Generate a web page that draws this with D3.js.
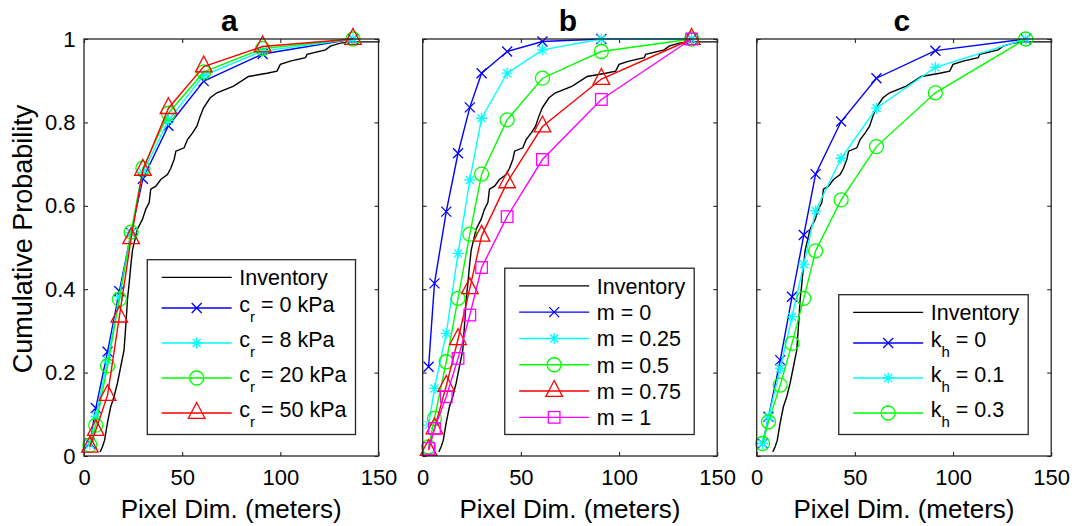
<!DOCTYPE html>
<html><head><meta charset="utf-8">
<script src="https://cdn.jsdelivr.net/npm/d3@7"></script>
<style>
body{margin:0;background:#fff}
svg{display:block}
text{font-family:"Liberation Sans",Arial,Helvetica,sans-serif;fill:#000}
</style>
</head><body>
<svg id="chart" width="1075" height="526"></svg>
<script>
// ---------- data ----------
const xVals = [3, 6, 12, 18, 24, 30, 43, 61, 91, 137];
const xTicks = [0, 50, 100, 150];
const xTickLabels = ["0", "50", "100", "150"];
const yTicks = [0, 0.2, 0.4, 0.6, 0.8, 1];
const yTickLabels = ["0", "0.2", "0.4", "0.6", "0.8", "1"];
const panelTitles = ["a", "b", "c"];
const xLabel = "Pixel Dim. (meters)";
const yLabel = "Cumulative Probability";
const inventoryLabel = "Inventory";

const invX = [8.2, 9.4, 10.5, 11.9, 13.6, 15.3, 17.0, 18.7, 20.4, 21.6, 22.1, 23.0, 23.8, 24.7, 25.5, 27.2, 29.8, 31.5, 33.2, 34.0, 36.6, 39.1, 42.5, 44.2, 45.9, 46.8, 51.0, 52.7, 55.3, 57.5, 59.2, 60.9, 64.3, 67.7, 76.2, 83.8, 93.2, 98.3, 100.0, 105.1, 112.8, 113.6, 123.0, 125.5, 130.6, 135.7, 150];
const invY = [0.01, 0.022, 0.038, 0.078, 0.118, 0.142, 0.174, 0.214, 0.254, 0.334, 0.374, 0.414, 0.454, 0.494, 0.51, 0.544, 0.568, 0.592, 0.608, 0.64, 0.647, 0.663, 0.675, 0.69, 0.711, 0.731, 0.739, 0.759, 0.775, 0.791, 0.815, 0.835, 0.859, 0.871, 0.887, 0.91, 0.918, 0.923, 0.939, 0.947, 0.955, 0.963, 0.974, 0.983, 0.99, 0.993, 0.993];

// panel a
const labelsA = ["c_r = 0 kPa", "c_r = 8 kPa", "c_r = 20 kPa", "c_r = 50 kPa"];
const cr0  = [0.03, 0.115, 0.25, 0.395, 0.535, 0.665, 0.792, 0.899, 0.964, 1.0];
const cr8  = [0.028, 0.095, 0.23, 0.382, 0.536, 0.68, 0.805, 0.913, 0.971, 1.0];
const cr20 = [0.026, 0.074, 0.216, 0.376, 0.537, 0.69, 0.822, 0.921, 0.977, 1.0];
const cr50 = [0.022, 0.062, 0.146, 0.334, 0.522, 0.686, 0.834, 0.934, 0.982, 1.0];
// panel b
const labelsB = ["m = 0", "m = 0.25", "m = 0.5", "m = 0.75", "m = 1"];
const m0   = [0.214, 0.414, 0.586, 0.726, 0.836, 0.918, 0.970, 0.994, 1.0, 1.0];
const m025 = [0.074, 0.162, 0.294, 0.486, 0.662, 0.81, 0.918, 0.974, 1.0, 1.0];
const m05  = [0.022, 0.09, 0.226, 0.378, 0.532, 0.676, 0.806, 0.906, 0.97, 1.0];
const m075 = [0.014, 0.066, 0.168, 0.28, 0.402, 0.528, 0.656, 0.79, 0.904, 1.0];
const m1   = [0.018, 0.066, 0.142, 0.234, 0.338, 0.452, 0.574, 0.711, 0.855, 1.0];
// panel c
const labelsC = ["k_h = 0", "k_h = 0.1", "k_h = 0.3"];
const kh0  = [0.03, 0.094, 0.23, 0.382, 0.53, 0.676, 0.802, 0.906, 0.972, 1.0];
const kh01 = [0.03, 0.093, 0.21, 0.334, 0.46, 0.588, 0.714, 0.834, 0.932, 1.0];
const kh03 = [0.03, 0.082, 0.17, 0.27, 0.378, 0.492, 0.614, 0.742, 0.871, 1.0];

const seriesColors = {blue:"#0000ff", cyan:"#00ffff", green:"#00ff00", red:"#ff0000", magenta:"#ff00ff"};

const panels = [
  {title: panelTitles[0], left: 84, yLabels: true, series: [
    {label: labelsA[0], values: cr0,  color: seriesColors.blue,  marker: "x"},
    {label: labelsA[1], values: cr8,  color: seriesColors.cyan,  marker: "star"},
    {label: labelsA[2], values: cr20, color: seriesColors.green, marker: "circle"},
    {label: labelsA[3], values: cr50, color: seriesColors.red,   marker: "triangle"}]},
  {title: panelTitles[1], left: 422.7, yLabels: false, series: [
    {label: labelsB[0], values: m0,   color: seriesColors.blue,    marker: "x"},
    {label: labelsB[1], values: m025, color: seriesColors.cyan,    marker: "star"},
    {label: labelsB[2], values: m05,  color: seriesColors.green,   marker: "circle"},
    {label: labelsB[3], values: m075, color: seriesColors.red,     marker: "triangle"},
    {label: labelsB[4], values: m1,   color: seriesColors.magenta, marker: "square"}]},
  {title: panelTitles[2], left: 756.7, yLabels: false, series: [
    {label: labelsC[0], values: kh0,  color: seriesColors.blue,  marker: "x"},
    {label: labelsC[1], values: kh01, color: seriesColors.cyan,  marker: "star"},
    {label: labelsC[2], values: kh03, color: seriesColors.green, marker: "circle"}]}
];

// ---------- drawing ----------
const svg = d3.select("#chart");
const W = 294.5, H = 417, TOP = 39;
const TICK_FS = 22, LEG_FS = 21.5, SUB_FS = 15;
const LW = 1.4;

function drawMarker(sel, type, color) {
  let m;
  if (type === "x") m = sel.append("path").attr("d", "M-5,-5L5,5M-5,5L5,-5");
  else if (type === "star") m = sel.append("path").attr("d", "M-5.5,0L5.5,0M0,-5.5L0,5.5M-4,-4L4,4M-4,4L4,-4");
  else if (type === "circle") m = sel.append("circle").attr("r", 7);
  else if (type === "triangle") m = sel.append("path").attr("d", "M0,-10.5L8.3,5.3L-8.3,5.3Z");
  else if (type === "square") m = sel.append("rect").attr("x", -5.8).attr("y", -5.8).attr("width", 11.6).attr("height", 11.6);
  m.attr("fill", "none").attr("stroke", color).attr("stroke-width", 1.3);
}

function writeLabel(textSel, label) {
  const mm = label.match(/^(.*?)_(\w)(.*)$/);
  if (!mm) { textSel.text(label); return false; }
  textSel.append("tspan").text(mm[1]);
  textSel.append("tspan").attr("font-size", SUB_FS).attr("dy", 10).text(mm[2]);
  textSel.append("tspan").attr("dy", -10).text(mm[3].replace(/ /g, "\u00a0"));
  return true;
}

panels.forEach((p, pi) => {
  const g = svg.append("g").attr("transform", `translate(${p.left},${TOP})`);
  const x = d3.scaleLinear().domain([0, 150]).range([0, W]);
  const y = d3.scaleLinear().domain([0, 1]).range([H, 0]);

  const clipId = "clip" + pi;
  g.append("clipPath").attr("id", clipId).append("rect").attr("width", W).attr("height", H);

  // axes (ticks inside, box)
  const bottom = g.append("g").attr("transform", `translate(0,${H})`)
    .call(d3.axisBottom(x).tickValues(xTicks).tickFormat((d, i) => xTickLabels[i]).tickSizeInner(-4).tickSizeOuter(0).tickPadding(13.4));
  const top = g.append("g").call(d3.axisTop(x).tickValues(xTicks).tickFormat("").tickSizeInner(-4).tickSizeOuter(0));
  const left = g.append("g").call(d3.axisLeft(y).tickValues(yTicks).tickFormat((d, i) => p.yLabels ? yTickLabels[i] : "").tickSizeInner(-4).tickSizeOuter(0).tickPadding(8.5));
  const right = g.append("g").attr("transform", `translate(${W},0)`).call(d3.axisRight(y).tickValues(yTicks).tickFormat("").tickSizeInner(-4).tickSizeOuter(0));
  [bottom, top, left, right].forEach(a => {
    a.select(".domain").remove();
    a.selectAll("line").attr("stroke", "#262626").attr("stroke-width", 1.1);
    a.selectAll("text").attr("font-size", TICK_FS).attr("fill", "#000").style("font-family", '"Liberation Sans",Arial,sans-serif');
  });

  const plot = g.append("g").attr("clip-path", `url(#${clipId})`);
  // inventory
  plot.append("path")
    .datum(invX.map((v, i) => [v, invY[i]]))
    .attr("d", d3.line().x(d => x(d[0])).y(d => y(d[1])))
    .attr("fill", "none").attr("stroke", "#000").attr("stroke-width", LW);

  p.series.forEach(s => {
    const pts = xVals.map((v, i) => [v, s.values[i]]);
    g.append("path").datum(pts)
      .attr("d", d3.line().x(d => x(d[0])).y(d => y(d[1])))
      .attr("fill", "none").attr("stroke", s.color).attr("stroke-width", LW);
    pts.forEach(d => {
      drawMarker(g.append("g").attr("transform", `translate(${x(d[0])},${y(d[1])})`), s.marker, s.color);
    });
  });

  // box
  g.append("rect").attr("width", W).attr("height", H).attr("fill", "none").attr("stroke", "#262626").attr("stroke-width", 1.3);

  // title and x label
  svg.append("text").attr("x", p.left + W / 2 - 2).attr("y", 31).attr("text-anchor", "middle")
    .attr("font-size", 30).attr("font-weight", "bold").text(p.title);
  svg.append("text").attr("x", p.left + W / 2).attr("y", 518).attr("text-anchor", "middle")
    .attr("font-size", 26).text(xLabel);

  // legend
  const entries = [{label: inventoryLabel, color: "#000", marker: null}].concat(p.series);
  const lg = g.append("g");
  const box = lg.append("rect").attr("fill", "#fff").attr("stroke", "#262626").attr("stroke-width", 1.3);
  const rowsG = entries.map(e => {
    const rg = lg.append("g");
    const t = rg.append("text").attr("font-size", LEG_FS);
    const hasSub = writeLabel(t, e.label);
    return {e, rg, t, hasSub, h: hasSub ? 35 : 26.3};
  });
  const maxW = d3.max(rowsG, r => r.t.node().getComputedTextLength());
  const lw = 14.4 + 70 + 7.6 + maxW + 9;
  const lh = 4.5 + d3.sum(rowsG, r => r.h) + 4;
  const x0 = W - 23 - lw, y0 = H - 21.5 - lh;
  box.attr("x", x0).attr("y", y0).attr("width", lw).attr("height", lh);
  let cum = y0 + 4.5;
  rowsG.forEach(r => {
    const cy = cum + r.h / 2;
    cum += r.h;
    r.rg.insert("line", "text").attr("x1", x0 + 14.4).attr("x2", x0 + 84.4).attr("y1", cy).attr("y2", cy)
      .attr("stroke", r.e.color).attr("stroke-width", LW);
    if (r.e.marker) drawMarker(r.rg.append("g").attr("transform", `translate(${x0 + 49.4},${cy})`), r.e.marker, r.e.color);
    r.t.attr("x", x0 + 92).attr("y", r.hasSub ? cy + 3.5 : cy + 8);
  });
});

// y label
svg.append("text").attr("transform", "translate(32,239) rotate(-90)").attr("text-anchor", "middle")
  .attr("font-size", 27).text(yLabel);
</script>
</body></html>
